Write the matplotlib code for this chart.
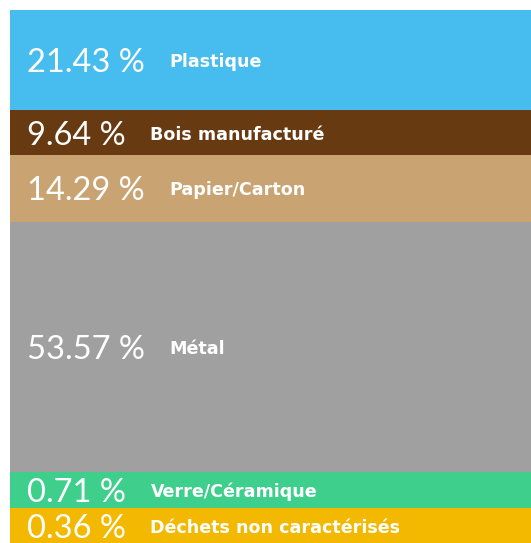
import numpy as np
import matplotlib.pyplot as plt

# data
categories = ["Plastique", "Bois manufacturé", "Papier/Carton", "Métal",
              "Verre/Céramique", "Déchets non caractérisés"]
percents = [21.43, 9.64, 14.29, 53.57, 0.71, 0.36]
colors = ["#47BCEF", "#683A11", "#C9A472", "#A0A0A0", "#3ECF8C", "#F2B900"]

# small slices get a minimum display height so their label fits
min_height = 7.7
heights = [max(p, min_height) for p in percents]

fig = plt.figure(figsize=(5.31, 5.43), dpi=100)
ax = fig.add_axes([9.5 / 531, 0, 1 - 9.5 / 531, 533 / 543])

bottoms = np.concatenate([[0], np.cumsum(heights)[:-1]])
for cat, h, b, c in zip(categories, heights, bottoms, colors):
    ax.bar(0, h, bottom=b, width=1, color=c, align="edge", linewidth=0)

ax.set_xlim(0, 1)
ax.set_ylim(533 / 4.67, 0)
ax.axis("off")

fig.canvas.draw()
renderer = fig.canvas.get_renderer()
for cat, p, h, b in zip(categories, percents, heights, bottoms):
    yc = b + h / 2
    t = ax.text(17 / 521, yc, f"{p:.2f} %", color="white", fontsize=23.5,
                family="Lato", weight="normal", va="center_baseline", ha="left")
    bb = t.get_window_extent(renderer)
    x_end = ax.transData.inverted().transform((bb.x1, 0))[0]
    ax.text(x_end + 25 / 521, yc, cat, color="white", fontsize=12.6,
            family="DejaVu Sans", weight="bold", va="center_baseline", ha="left")

fig.savefig("out.png", dpi=100)
